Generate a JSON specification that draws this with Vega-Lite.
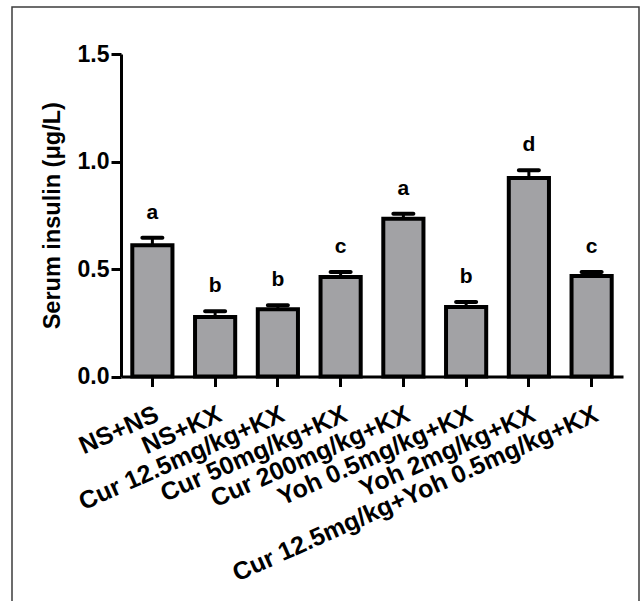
{
  "$schema": "https://vega.github.io/schema/vega-lite/v6.json",
  "width": 627,
  "height": 600,
  "autosize": "none",
  "padding": {"left": 12, "top": 7, "right": 1, "bottom": 0},
  "background": "white",
  "config": {
    "view": {"stroke": "#3c3c3c", "strokeWidth": 1.5},
    "font": "Liberation Sans",
    "axis": {
      "domainColor": "black", "domainWidth": 3, "tickColor": "black", "tickWidth": 3,
      "labelFont": "Liberation Sans", "labelFontWeight": "bold", "labelColor": "black",
      "titleFont": "Liberation Sans", "titleFontWeight": "bold", "titleColor": "black",
      "grid": false
    }
  },
  "data": {"values": [
    {"group": "NS+NS", "mean": 0.61, "upper": 0.645, "sig": "a"},
    {"group": "NS+KX", "mean": 0.277, "upper": 0.303, "sig": "b"},
    {"group": "Cur 12.5mg/kg+KX", "mean": 0.313, "upper": 0.331, "sig": "b"},
    {"group": "Cur 50mg/kg+KX", "mean": 0.463, "upper": 0.486, "sig": "c"},
    {"group": "Cur 200mg/kg+KX", "mean": 0.734, "upper": 0.757, "sig": "a"},
    {"group": "Yoh 0.5mg/kg+KX", "mean": 0.323, "upper": 0.347, "sig": "b"},
    {"group": "Yoh 2mg/kg+KX", "mean": 0.923, "upper": 0.959, "sig": "d"},
    {"group": "Cur 12.5mg/kg+Yoh 0.5mg/kg+KX", "mean": 0.467, "upper": 0.486, "sig": "c"}
  ]},
  "encoding": {
    "x": {
      "field": "group", "type": "nominal", "sort": null,
      "scale": {"range": [109, 611], "paddingInner": 0.36, "paddingOuter": 0.18},
      "axis": {
        "title": null, "offset": -230.5, "labelAngle": -24, "labelAlign": "right",
        "labelBaseline": "top", "labelPadding": 15, "tickSize": 10, "labelFontSize": 25,
        "labelLimit": 1000
      }
    }
  },
  "layer": [
    {
      "mark": {"type": "bar", "fill": "#a2a2a5", "stroke": "black", "strokeWidth": 4},
      "encoding": {
        "y": {
          "field": "mean", "type": "quantitative",
          "scale": {"domain": [0, 1.5], "range": [369.5, 47], "nice": false},
          "axis": {
            "title": "Serum insulin (μg/L)", "offset": -109, "values": [0, 0.5, 1, 1.5],
            "format": ".1f", "tickSize": 10, "labelPadding": 2, "labelFontSize": 23,
            "titleFontSize": 23.5, "titlePadding": 13
          }
        }
      }
    },
    {
      "mark": {"type": "rule", "stroke": "black", "strokeWidth": 3},
      "encoding": {"y": {"field": "mean", "type": "quantitative"}, "y2": {"field": "upper"}}
    },
    {
      "mark": {"type": "tick", "color": "black", "size": 24, "thickness": 4, "cornerRadius": 2, "opacity": 1},
      "encoding": {"y": {"field": "upper", "type": "quantitative"}}
    },
    {
      "mark": {"type": "text", "fontSize": 21, "fontWeight": "bold", "baseline": "alphabetic", "dy": -19, "color": "black"},
      "encoding": {"y": {"field": "upper", "type": "quantitative"}, "text": {"field": "sig"}}
    }
  ]
}
